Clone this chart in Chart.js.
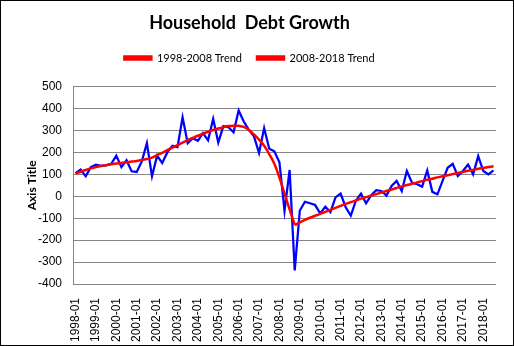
<!DOCTYPE html>
<html>
<head>
<meta charset="utf-8">
<script src="https://cdn.jsdelivr.net/npm/chart.js@4.4.1/dist/chart.umd.min.js"></script>
<style>
  html, body { margin:0; padding:0; background:#fff; }
  #wrap { width:514px; height:346px; position:relative; }
</style>
</head>
<body>
<div id="wrap"><canvas id="debt" width="514" height="346"></canvas></div>
<script>
// quarterly categories, 1998-01 .. 2018-07
const startYear = 1998;
const quarterMonths = ['01','04','07','10'];
const quarterCount = 83;

const debtGrowth = [
  105, 122, 91, 133, 144, 139, 141, 148, 185, 133,
  164, 114, 111, 159, 242, 91, 185, 152, 200, 230,
  224, 360, 242, 265, 253, 288, 255, 353, 245, 320,
  315, 292, 391, 341, 303, 273, 197, 311, 217, 205,
  155, -67, 120, -338, -65, -25, -32, -40, -78, -48,
  -72, -5, 12, -50, -88, -20, 12, -32, 5, 28,
  24, 3, 47, 70, 24, 115, 62, 55, 44, 118,
  20, 9, 70, 130, 148, 92, 115, 145, 100, 183,
  115, 100, 118
];

// trend 1: quarters 0..43
const trendEarly = [
  103, 112, 120, 127, 133, 138, 142, 146, 149, 152,
  155, 158, 161, 165, 170, 176, 188, 198, 210, 222,
  233, 245, 256, 266, 276, 285, 294, 302, 309, 315,
  320, 322, 321, 316, 302, 282, 258, 230, 192, 148,
  85, 12, -60, -131
];
const trendEarlyStart = 0;

// trend 2: quarters 43..82
const trendLate = [
  -131, -119, -108, -98, -89, -80, -71, -62, -53, -44,
  -35, -27, -19, -11, -4, 3, 10, 17, 24, 31,
  38, 45, 51, 57, 63, 69, 75, 80, 86, 91,
  96, 101, 106, 111, 116, 120, 125, 129, 133, 137
];
const trendLateStart = 43;

const yTicks = { min: -400, max: 500, step: 100 };

const labels = [];
for (let i = 0; i < quarterCount; i++) {
  labels.push((startYear + Math.floor(i/4)) + '-' + quarterMonths[i%4]);
}
function pad(vals, start) {
  const out = new Array(quarterCount).fill(null);
  vals.forEach((v, k) => { out[start+k] = v; });
  return out;
}

const frame = {
  id: 'frame',
  afterDraw(chart) {
    const c = chart.ctx;
    c.save();
    c.strokeStyle = '#000';
    c.lineWidth = 1;
    c.strokeRect(0.5, 0.5, chart.width-1, chart.height-1);
    c.restore();
  }
};

// extra room under the legend
const legendGap = {
  id: 'legendGap',
  beforeInit(chart) {
    const fit = chart.legend.fit;
    chart.legend.fit = function() {
      fit.bind(chart.legend)();
      this.height += 13;
    };
  }
};

new Chart(document.getElementById('debt').getContext('2d'), {
  type: 'line',
  data: {
    labels: labels,
    datasets: [
      { label:'Debt Growth', data: debtGrowth, borderColor:'#0000ff', backgroundColor:'#0000ff',
        borderWidth:2.25, pointRadius:0, tension:0, order:2 },
      { label:'1998-2008 Trend', data: pad(trendEarly, trendEarlyStart), borderColor:'#ff0000', backgroundColor:'#ff0000',
        borderWidth:2.5, pointRadius:0, tension:0.4, spanGaps:false, order:1 },
      { label:'2008-2018 Trend', data: pad(trendLate, trendLateStart), borderColor:'#ff0000', backgroundColor:'#ff0000',
        borderWidth:2.5, pointRadius:0, tension:0.4, spanGaps:false, order:1 }
    ]
  },
  options: {
    responsive:false, animation:false,
    layout:{ padding:{ left:0, right:15, top:0, bottom:0 } },
    plugins:{
      title:{ display:true, text:'Household  Debt Growth', color:'#000',
        font:{ family:'Lato', size:18, weight:'bold' }, padding:{ top:12, bottom:4 } },
      legend:{ display:true, position:'top',
        labels:{ color:'#000', font:{ family:'Lato', size:11 }, boxWidth:27, boxHeight:3, padding:15,
          filter: item => item.datasetIndex > 0 } },
      tooltip:{ enabled:false }
    },
    scales:{
      x:{
        offset:true,
        grid:{ display:false },
        border:{ display:false },
        ticks:{ color:'#000', font:{ family:'Liberation Sans', size:12 }, autoSkip:false,
          minRotation:90, maxRotation:90, padding:6,
          callback:(v, i) => i % 4 === 0 ? labels[i] : '' },
        afterFit: s => { s.height = 62; }
      },
      y:{
        min:yTicks.min, max:yTicks.max,
        grid:{ color:'#868686', drawTicks:false },
        border:{ display:true, color:'#868686' },
        ticks:{ stepSize:yTicks.step, color:'#000', font:{ family:'Liberation Sans', size:12 }, padding:11 },
        title:{ display:true, text:'Axis Title', color:'#000', font:{ family:'Lato', size:12, weight:'bold' },
          padding:{ top:25, bottom:0 } },
        afterFit: s => { s.width = 73; }
      }
    }
  },
  plugins:[frame, legendGap]
});
</script>
</body>
</html>
